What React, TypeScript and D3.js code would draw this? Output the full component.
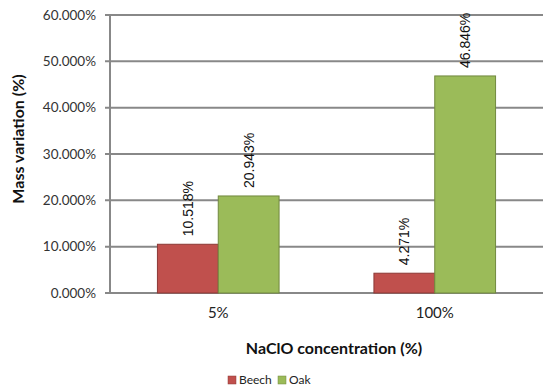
import * as React from "react";
import * as d3 from "d3";

const categories = ["5%", "100%"];
const seriesNames = ["Beech", "Oak"];
const beech = [10.518, 4.271];
const oak = [20.943, 46.846];
const yTicks = [0, 10, 20, 30, 40, 50, 60];

const colors = ["#C0504D", "#9BBB59"];
const strokes = ["#8C3836", "#71893F"];

export default function App() {
  const width = 550;
  const height = 391;
  const margin = { left: 110, right: 7, top: 15, bottom: 98 };

  const x = d3
    .scaleBand()
    .domain(categories)
    .range([margin.left, width - margin.right]);
  const y = d3
    .scaleLinear()
    .domain([0, 60])
    .range([height - margin.bottom, margin.top]);

  const inner = d3
    .scaleBand()
    .domain(seriesNames)
    .range([0, x.bandwidth()])
    .paddingInner(0)
    .paddingOuter(0.78);

  const values = [beech, oak];
  const font = "Lato, 'Open Sans', sans-serif";

  return (
    <svg width={width} height={height} style={{ position: "absolute", left: 0, top: 0 }}>
      <rect width={width} height={height} fill="#fff" />
      {yTicks.map((t) => (
        <g key={"g" + t}>
          <line
            x1={margin.left - 5}
            x2={width - margin.right}
            y1={y(t)}
            y2={y(t)}
            stroke="#888"
            strokeWidth={2}
          />
          <text
            x={margin.left - 14}
            y={y(t)}
            dy="0.35em"
            textAnchor="end"
            fontFamily={font}
            fontSize={13.5}
            fill="#333"
          >
            {t.toFixed(3) + "%"}
          </text>
        </g>
      ))}
      <line
        x1={margin.left}
        x2={margin.left}
        y1={y(60)}
        y2={y(0)}
        stroke="#888"
        strokeWidth={2}
      />
      {categories.map((c, i) =>
        seriesNames.map((s, j) => {
          const v = values[j][i];
          const bx = (x(c) as number) + (inner(s) as number);
          const bw = inner.bandwidth();
          const cx = bx + bw / 2;
          const ty = y(v) - 8;
          return (
            <g key={c + s}>
              <rect
                x={bx}
                y={y(v)}
                width={bw}
                height={y(0) - y(v)}
                fill={colors[j]}
                stroke={strokes[j]}
                strokeWidth={1}
              />
              <text
                transform={`translate(${cx + 5},${ty}) rotate(-90)`}
                fontFamily="'Liberation Sans', Arial, sans-serif"
                fontSize={14}
                fill="#111"
              >
                {v.toFixed(3) + "%"}
              </text>
            </g>
          );
        })
      )}
      {categories.map((c) => (
        <text
          key={"x" + c}
          x={(x(c) as number) + x.bandwidth() / 2}
          y={318}
          textAnchor="middle"
          fontFamily={font}
          fontSize={15}
          fill="#222"
        >
          {c}
        </text>
      ))}
      <text
        x={334}
        y={354}
        textAnchor="middle"
        fontFamily={font}
        fontSize={16}
        fontWeight="bold"
        fill="#111"
      >
        NaClO concentration (%)
      </text>
      <text
        transform={`translate(24,139) rotate(-90)`}
        textAnchor="middle"
        fontFamily={font}
        fontSize={16}
        fontWeight="bold"
        fill="#111"
      >
        Mass variation (%)
      </text>
      {seriesNames.map((s, j) => {
        const lx = j === 0 ? 228 : 278;
        return (
          <g key={"l" + s}>
            <rect x={lx} y={376} width={8} height={8} fill={colors[j]} stroke={strokes[j]} strokeWidth={0.5} />
            <text x={lx + 11} y={384} fontFamily={font} fontSize={12} fill="#222">
              {s}
            </text>
          </g>
        );
      })}
    </svg>
  );
}
